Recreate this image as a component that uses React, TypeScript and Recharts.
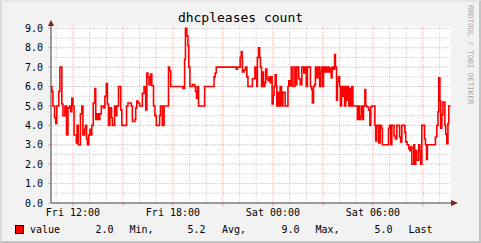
import { LineChart, Line, XAxis, YAxis, CartesianGrid } from 'recharts';

// Change points of the step series: minutes since Fri 00:00, and lease count from that minute on
const leaseTimes = [
  640, 644, 648, 654, 658, 662, 669, 673, 680, 684,
  691, 697, 702, 708, 712, 716, 720, 724, 732, 735,
  739, 747, 752, 756, 762, 765, 769, 772, 777, 781,
  784, 788, 793, 799, 802, 807, 812, 817, 822, 830,
  835, 840, 844, 848, 853, 859, 862, 870, 874, 878,
  884, 892, 896, 913, 918, 930, 934, 943, 946, 950,
  954, 960, 970, 976, 982, 986, 990, 994, 1000, 1004,
  1010, 1015, 1020, 1032, 1035, 1042, 1048, 1064, 1068, 1072,
  1116, 1122, 1125, 1130, 1134, 1137, 1141, 1150, 1158, 1161,
  1165, 1168, 1172, 1194, 1228, 1232, 1236, 1308, 1312, 1322,
  1326, 1329, 1330, 1336, 1341, 1346, 1350, 1366, 1375, 1378,
  1382, 1384, 1388, 1392, 1395, 1399, 1402, 1406, 1411, 1414,
  1418, 1423, 1426, 1430, 1434, 1437, 1441, 1444, 1448, 1452,
  1454, 1458, 1461, 1466, 1471, 1476, 1484, 1494, 1497, 1502,
  1506, 1512, 1519, 1522, 1526, 1533, 1538, 1544, 1551, 1555,
  1560, 1564, 1575, 1579, 1582, 1586, 1590, 1593, 1598, 1602,
  1608, 1611, 1615, 1618, 1622, 1626, 1629, 1634, 1638, 1641,
  1645, 1650, 1653, 1658, 1662, 1665, 1669, 1672, 1676, 1680,
  1683, 1687, 1690, 1694, 1698, 1702, 1706, 1710, 1713, 1717,
  1720, 1724, 1728, 1744, 1748, 1752, 1755, 1759, 1762, 1766,
  1771, 1774, 1778, 1784, 1789, 1792, 1796, 1807, 1810, 1814,
  1821, 1826, 1831, 1834, 1856, 1860, 1864, 1868, 1876, 1881,
  1886, 1896, 1900, 1904, 1915, 1918, 1923, 1929, 1933, 1936,
  1940, 1947, 1950, 1954, 1958, 1965, 1969, 1972, 1976, 1986,
  1989, 1993, 1996, 2025, 2030, 2034, 2037, 2041, 2044, 2048,
  2052, 2059, 2062, 2066, 2070, 2073, 2080,
];

const leaseCounts = [
  6.0, 5.75, 5.0, 4.4, 4.1, 5.0, 5.75, 7.0, 5.1, 4.5,
  5.0, 3.5, 4.9, 5.0, 4.7, 5.4, 5.0, 3.5, 3.1, 4.0,
  3.0, 4.6, 5.0, 3.5, 3.8, 4.0, 3.3, 3.0, 3.5, 3.8,
  3.5, 4.0, 5.15, 5.9, 4.3, 4.6, 4.3, 4.6, 5.0, 4.9,
  5.5, 6.15, 5.1, 4.0, 4.9, 4.4, 4.0, 5.0, 4.5, 5.0,
  6.0, 4.8, 4.0, 5.0, 5.15, 5.0, 4.2, 4.3, 4.9, 5.25,
  5.15, 5.0, 5.65, 6.0, 4.8, 6.7, 6.5, 6.1, 6.65, 6.05,
  5.0, 4.5, 4.0, 4.5, 5.0, 4.0, 5.0, 7.0, 6.8, 6.0,
  5.9, 7.4, 9.0, 8.6, 8.1, 7.0, 6.0, 6.1, 6.0, 5.75,
  5.4, 6.0, 5.0, 6.0, 6.5, 6.7, 7.0, 6.9, 7.0, 7.5,
  7.8, 7.5, 6.75, 6.85, 7.0, 6.5, 6.0, 6.4, 7.0, 6.4,
  6.0, 7.5, 8.0, 7.5, 7.0, 6.0, 6.75, 6.0, 6.2, 6.9,
  6.4, 6.3, 6.5, 6.2, 6.5, 5.1, 5.55, 6.0, 6.6, 6.0,
  5.0, 5.7, 5.0, 6.0, 5.0, 5.7, 5.0, 6.0, 6.3, 6.05,
  7.0, 6.0, 7.0, 6.1, 7.0, 6.4, 6.1, 7.0, 6.7, 7.0,
  6.0, 7.0, 6.0, 5.85, 5.15, 6.0, 6.1, 7.0, 6.45, 7.0,
  6.0, 6.75, 7.0, 6.0, 7.0, 6.75, 7.0, 6.75, 7.0, 6.75,
  6.95, 6.45, 7.0, 6.9, 7.65, 7.0, 5.3, 6.25, 6.5, 6.0,
  5.0, 6.0, 5.5, 6.0, 5.0, 6.0, 5.3, 6.0, 5.0, 5.9,
  5.0, 6.0, 5.0, 4.3, 5.0, 4.3, 4.45, 5.0, 4.3, 5.0,
  5.85, 5.0, 4.95, 4.8, 4.0, 4.95, 5.0, 4.0, 3.2, 4.0,
  3.1, 4.0, 3.85, 3.0, 3.85, 4.0, 3.0, 4.0, 3.45, 3.3,
  4.0, 3.4, 3.15, 4.0, 3.65, 3.15, 3.0, 2.8, 2.7, 2.9,
  2.0, 3.0, 2.0, 2.7, 2.2, 3.0, 2.7, 2.0, 4.0, 3.3,
  3.0, 2.25, 3.0, 3.4, 4.0, 4.7, 6.45, 5.25, 3.85, 4.55,
  5.2, 4.0, 3.55, 3.05, 4.1, 5.0, 5.0,
];

// x axis: labelled ticks every 6h, red major grid every 3h
const labelTimes = [720, 1080, 1440, 1800];
const labelTexts = ['Fri 12:00', 'Fri 18:00', 'Sat 00:00', 'Sat 06:00'];
const yTicks = [0, 1, 2, 3, 4, 5, 6, 7, 8, 9];

// legend line: value 2.0 Min, 5.2 Avg, 9.0 Max, 5.0 Last
const legendName = 'value';
const legendStats = ['2.0', '5.2', '9.0', '5.0'];
const legendStatNames = ['Min,', 'Avg,', 'Max,', 'Last'];

const T_START = 641;
const T_END = 2081;

const minorX: number[] = [];
const majorX: number[] = [];
for (let t = 660; t < T_END; t += 60) {
  if (t % 180 === 0) majorX.push(t);
  else minorX.push(t);
}
const minorY: number[] = [];
for (let v = 0.5; v < 9.1; v += 1) minorY.push(v);
const majorY = yTicks.filter((v) => v > 0);

const GRID = 'rgba(143,143,143,0.42)';
const MGRID = 'rgba(222,79,79,0.45)';
const FONT = '"DejaVu Sans Mono", monospace';

const data = leaseTimes.map((t, i) => ({ t, value: leaseCounts[i] }));

const legendXs = [95.5, 187.5, 281.5, 374.5];
const legendNameXs = [129.5, 222, 315.5, 408.5];

export default function App() {
  const fmtTime = (t: number) => {
    const i = labelTimes.indexOf(t);
    return i >= 0 ? labelTexts[i] : '';
  };

  return (
    <div
      style={{
        position: 'absolute',
        left: 0,
        top: 0,
        width: 481,
        height: 243,
        background: '#f2f2f2',
        boxSizing: 'border-box',
        borderTop: '2px solid #e6e6e6',
        borderLeft: '2px solid #dadada',
        borderRight: '2px solid #c4c4c4',
        borderBottom: '2px solid #c4c4c4',
        overflow: 'hidden',
      }}
    >
      <div style={{ position: 'absolute', left: -2, top: -2 }}>
        <LineChart
          width={481}
          height={243}
          data={data}
          margin={{ top: 26, right: 30, bottom: 20, left: 6 }}
        >
          <CartesianGrid
            fill="#ffffff"
            stroke={GRID}
            strokeDasharray="1 1"
            horizontalValues={minorY}
            verticalValues={minorX}
          />
          <CartesianGrid
            stroke={MGRID}
            strokeDasharray="1 1"
            horizontalValues={majorY}
            verticalValues={majorX}
          />
          <XAxis
            dataKey="t"
            type="number"
            domain={[T_START, T_END]}
            allowDataOverflow
            ticks={[...majorX]}
            tickFormatter={fmtTime}
            interval={0}
            height={20}
            tickSize={3}
            tickMargin={3}
            axisLine={{ stroke: '#404040' }}
            tickLine={{ stroke: MGRID }}
            tick={{ fill: '#000', fontSize: 10, fontFamily: FONT }}
          />
          <YAxis
            type="number"
            domain={[0, 9.12]}
            allowDataOverflow
            ticks={yTicks}
            interval={0}
            width={45}
            tickSize={3}
            tickMargin={5}
            tickFormatter={(v: number) => v.toFixed(1)}
            axisLine={{ stroke: '#404040' }}
            tickLine={{ stroke: MGRID }}
            tick={{ fill: '#000', fontSize: 10, fontFamily: FONT }}
          />
          <Line
            type="stepAfter"
            dataKey="value"
            stroke="#ff0000"
            strokeWidth={1.6}
            dot={false}
            activeDot={false}
            isAnimationActive={false}
          />
        </LineChart>
      </div>

      <svg
        width={481}
        height={243}
        style={{ position: 'absolute', left: -2, top: -2, pointerEvents: 'none' }}
      >
        <text x={240.5} y={22} textAnchor="middle" fontFamily={FONT} fontSize={13} fill="#000">
          dhcpleases count
        </text>

        {/* axis extensions and arrows */}
        <line x1={51} y1={26} x2={51} y2={22} stroke="#404040" />
        <polygon points="48,26 54,26 51,20" fill="#801f1f" />
        <line x1={451} y1={203} x2={455} y2={203} stroke="#404040" />
        <polygon points="451,200 451,206 458,203" fill="#801f1f" />

        <text
          transform="translate(468,5) rotate(90)"
          fontFamily={FONT}
          fontSize={7.5}
          fill="#a8a8a8"
        >
          RRDTOOL / TOBI OETIKER
        </text>

        <rect x={15.5} y={225.5} width={8} height={8} fill="#ff0000" stroke="#000" />
        <text x={30} y={233} fontFamily={FONT} fontSize={10} fill="#000">
          {legendName}
        </text>
        {legendStats.map((s, i) => (
          <text key={s + i} x={legendXs[i]} y={233} fontFamily={FONT} fontSize={10} fill="#000">
            {s}
          </text>
        ))}
        {legendStatNames.map((s, i) => (
          <text key={s} x={legendNameXs[i]} y={233} fontFamily={FONT} fontSize={10} fill="#000">
            {s}
          </text>
        ))}
      </svg>
    </div>
  );
}
